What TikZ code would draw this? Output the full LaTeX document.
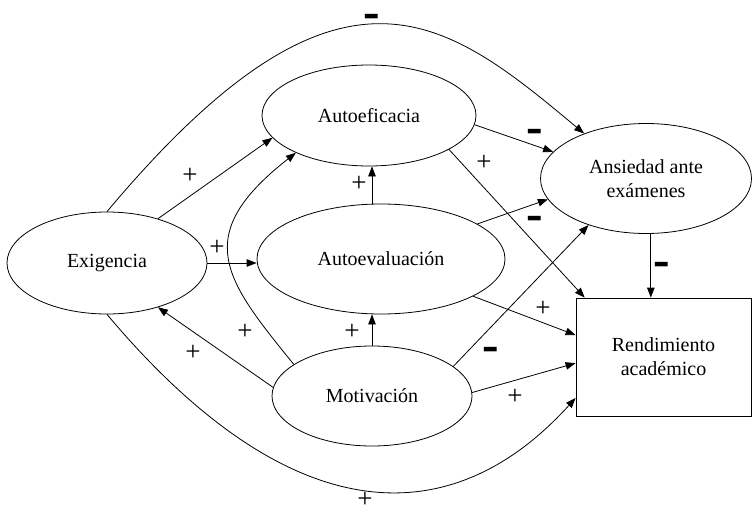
\documentclass[tikz,border=0pt]{standalone}
\usepackage{fontspec}
\usepackage{graphicx}
\setmainfont{Liberation Serif}
\usetikzlibrary{shapes.geometric,arrows.meta}
\newcommand{\menos}{\scalebox{1.25}[3.2]{\bfseries –}}

\begin{document}
\begin{tikzpicture}[x=1pt,y=-1pt,font=\fontsize{20}{24}\selectfont,
        var/.style={draw, ellipse, inner sep=0pt, line width=0.8pt},
        flecha/.style={-{Triangle[length=10pt,width=7.5pt]}, line width=0.8pt},
        signo/.style={inner sep=0pt, font=\fontsize{27}{30}\selectfont},
        signoneg/.style={inner sep=0pt, yshift=-7pt}]
            \useasboundingbox (0,0) rectangle (752,509);
            \node[var, minimum width=200pt, minimum height=102pt] (exig) at (107,263) {Exigencia};
            \node[var, minimum width=214pt, minimum height=101pt] (autoef) at (369,115.5) {Autoeficacia};
            \node[var, minimum width=248pt, minimum height=110pt] (autoev) at (381,259) {Autoevaluación};
            \node[var, minimum width=200pt, minimum height=100pt] (motiv) at (372,396) {Motivación};
            \node[var, minimum width=211pt, minimum height=110pt, align=center] (ansied) at (646,178.5) {Ansiedad ante\\exámenes};
            \node[draw, line width=0.8pt, minimum width=175pt, minimum height=118pt, align=center] (rend) at (663.5,357) {Rendimiento\\académico};

            \draw[flecha] (exig.41) -- (autoef.193);
            \draw[flecha] (exig.east) -- (exig.east -| autoev.west);
            \draw[flecha] (motiv.175) -- (exig.-41);
            \draw[flecha] (motiv.158) .. controls +(-69,-85) and +(-106,83) .. (autoef.207);
            \draw[flecha] (motiv.north) -- (motiv.north |- autoev.south);
            \draw[flecha] (motiv.north |- autoev.north) -- (motiv.north |- autoef.south);
            \draw[flecha] (autoef.-5) -- (ansied.164);
            \draw[flecha] (autoef.-23) -- (rend.143);
            \draw[flecha] (autoev.20) -- (ansied.192);
            \draw[flecha] (autoev.-22) -- (rend.166);
            \draw[flecha] (motiv.20) -- (ansied.219);
            \draw[flecha] (motiv.2) -- (rend.184);
            \draw[flecha] (ansied.-85) -- (ansied.-85 |- rend.north);
            \draw[flecha] (exig.90) .. controls +(233,-278) and +(-140,-117) .. (ansied.144);
            \draw[flecha] (exig.270) .. controls +(184,219) and +(-124,137) .. (rend.205);

            \node[signoneg] (sExAn) at (372,16) {\menos};
            \node[signo] (sExAf) at (190,176) {+};
            \node[signo] (sExAv) at (217,248) {+};
            \node[signo] (sAvAf) at (359,184) {+};
            \node[signo] (sMoAv) at (352,332) {+};
            \node[signo] (sMoAf) at (245,332) {+};
            \node[signo] (sMoEx) at (193,353) {+};
            \node[signoneg] (sAfAn) at (535,131) {\menos};
            \node[signo] (sAfRe) at (484,163) {+};
            \node[signoneg] (sAvAn) at (535,218) {\menos};
            \node[signoneg] (sMoAn) at (491,349) {\menos};
            \node[signo] (sAvRe) at (543,309) {+};
            \node[signo] (sMoRe) at (515,397) {+};
            \node[signoneg] (sAnRe) at (662,264) {\menos};
            \node[signo] (sExRe) at (365,500) {+};
        \end{tikzpicture}
\end{document}
